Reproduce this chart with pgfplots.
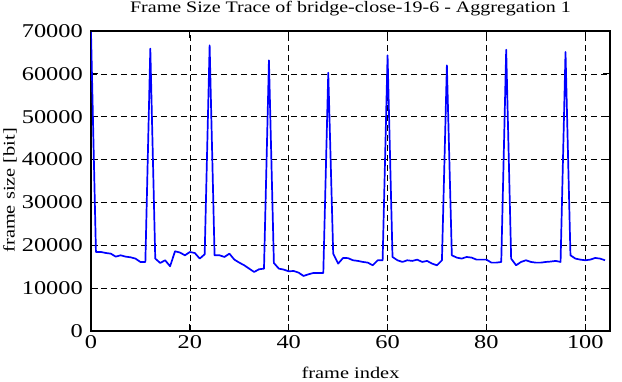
\documentclass[border=0pt]{standalone}
\usepackage{pgfplots}
\pgfplotsset{compat=1.18}
\usepackage{fontspec}
\setmainfont{Liberation Serif}[FakeStretch=1.25]
\pgfplotstableread{
f v
0 69800
1 18440
2 18440
3 18200
4 18050
5 17350
6 17660
7 17350
8 17195
9 16885
10 16100
11 16100
12 65880
13 16900
14 15870
15 16500
16 15100
17 18600
18 18300
19 17660
20 18430
21 18200
22 16890
23 17900
24 66650
25 17660
26 17660
27 17270
28 18050
29 16650
30 15950
31 15330
32 14550
33 13770
34 14400
35 14550
36 63150
37 15870
38 14550
39 14320
40 13930
41 14000
42 13620
43 12840
44 13230
45 13540
46 13540
47 13540
48 60280
49 18050
50 15720
51 17040
52 17000
53 16500
54 16350
55 16110
56 15950
57 15330
58 16500
59 16500
60 64320
61 17270
62 16500
63 16110
64 16500
65 16350
66 16650
67 16110
68 16350
69 15720
70 15330
71 16500
72 61990
73 17660
74 17120
75 16890
76 17270
77 17120
78 16650
79 16650
80 16650
81 15950
82 15950
83 16110
84 65640
85 16890
86 15330
87 16110
88 16500
89 16110
90 15950
91 15950
92 16110
93 16200
94 16350
95 16110
96 65100
97 17660
98 16890
99 16650
100 16500
101 16650
102 17040
103 16890
104 16500
}\datatable
\begin{document}
\begin{tikzpicture}
\begin{axis}[
  scale only axis,
  width=519pt, height=300pt,
  xmin=0, xmax=105, ymin=0, ymax=70000,
  xtick={0,20,40,60,80,100},
  ytick={0,10000,20000,30000,40000,50000,60000,70000},
  xticklabels={0,20,40,60,80,100},
  yticklabels={0,10000,20000,30000,40000,50000,60000,70000},
  scaled y ticks=false,
  xticklabel style={font=\fontsize{19.5}{22}\selectfont, anchor=base, inner sep=0pt, yshift=-18pt},
  yticklabel style={font=\fontsize{19.5}{22}\selectfont, anchor=east, inner sep=0pt, xshift=-8pt},
  label style={font=\fontsize{16.3}{19}\selectfont},
  tick align=inside,
  major tick length=7pt,
  tick style={black, line width=1pt},
  axis line style={line width=1.6pt},
  grid=major,
  major grid style={black, line width=0.6pt, dash pattern=on 6pt off 4pt},
  every axis title shift=0pt,
  title={Frame Size Trace of bridge-close-19-6 - Aggregation 1},
  title style={font=\fontsize{16}{19}\selectfont, at={(axis description cs:0.5,1.06)}, anchor=base},
  xlabel={frame index},
  ylabel={frame size [bit]},
  xlabel style={at={(axis description cs:0.5,-0.158)}, anchor=base},
  ylabel style={at={(axis description cs:-0.156,0.469)}, anchor=center},
]
\addplot[color={rgb,255:red,0;green,0;blue,255}, line width=1.7pt, line join=round] table[x=f,y=v] {\datatable};
\end{axis}
\pgfresetboundingbox
\path ([xshift=-91pt,yshift=-51pt]current axis.south west) rectangle ([xshift=12pt,yshift=31pt]current axis.north east);
\end{tikzpicture}
\end{document}
